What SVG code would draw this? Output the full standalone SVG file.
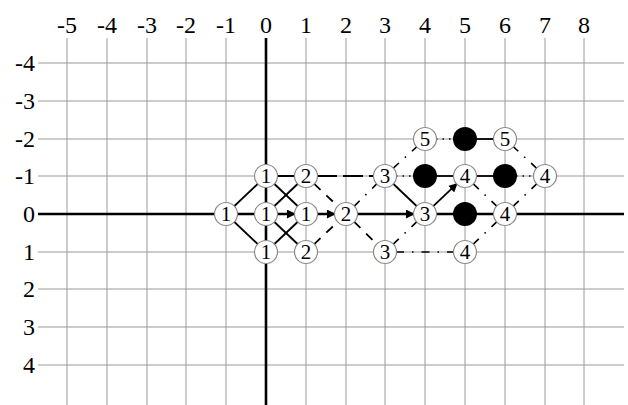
<svg xmlns="http://www.w3.org/2000/svg" width="628" height="405" viewBox="0 0 628 405">
<style>
.g{stroke:#9a9a9a;stroke-width:1;fill:none}
.ax{stroke:#000;stroke-width:2.6}
.lbl{font-family:"Liberation Serif","Times New Roman",serif;font-size:24px;fill:#000}
.s{stroke:#000;stroke-width:1.8;fill:none}
.d1{stroke:#000;stroke-width:1.8;stroke-dasharray:20 6}
.d2{stroke:#000;stroke-width:1.8;stroke-dasharray:9 8}
.dd{stroke:#000;stroke-width:1.6;stroke-dasharray:8 8 1.5 8}
.dt{stroke:#000;stroke-width:1.5;stroke-dasharray:1.5 5}
.a{stroke:#000;stroke-width:1.8;marker-end:url(#ah)}
.n circle{fill:#fff;stroke:#8a8a8a;stroke-width:1.2}
.n text{font-family:"Liberation Serif","Times New Roman",serif;font-size:21px;text-anchor:middle;fill:#000}
.b circle{fill:#000}
</style>
<defs>
<marker id="ah" viewBox="0 0 10 10" refX="9" refY="5" markerWidth="5" markerHeight="5" orient="auto" markerUnits="strokeWidth">
<path d="M0,0 L10,5 L0,10 z" fill="#000"/>
</marker>
</defs>
<rect width="628" height="405" fill="#fff"/>
<g id="grid">
<g class="g">
<line x1="67" y1="38" x2="67" y2="405"/>
<line x1="107" y1="38" x2="107" y2="405"/>
<line x1="147" y1="38" x2="147" y2="405"/>
<line x1="186" y1="38" x2="186" y2="405"/>
<line x1="226" y1="38" x2="226" y2="405"/>
<line x1="306" y1="38" x2="306" y2="405"/>
<line x1="346" y1="38" x2="346" y2="405"/>
<line x1="385" y1="38" x2="385" y2="405"/>
<line x1="425" y1="38" x2="425" y2="405"/>
<line x1="465" y1="38" x2="465" y2="405"/>
<line x1="505" y1="38" x2="505" y2="405"/>
<line x1="545" y1="38" x2="545" y2="405"/>
<line x1="584" y1="38" x2="584" y2="405"/>
<line x1="38" y1="63" x2="624" y2="63"/>
<line x1="38" y1="101" x2="624" y2="101"/>
<line x1="38" y1="139" x2="624" y2="139"/>
<line x1="38" y1="176" x2="624" y2="176"/>
<line x1="38" y1="252" x2="624" y2="252"/>
<line x1="38" y1="289" x2="624" y2="289"/>
<line x1="38" y1="327" x2="624" y2="327"/>
<line x1="38" y1="365" x2="624" y2="365"/>
</g>
<line class="ax" x1="266" y1="38" x2="266" y2="405"/>
<line class="ax" x1="38" y1="214" x2="624" y2="214"/>
<g class="lbl" text-anchor="middle">
<text x="67" y="33">-5</text>
<text x="107" y="33">-4</text>
<text x="147" y="33">-3</text>
<text x="186" y="33">-2</text>
<text x="226" y="33">-1</text>
<text x="266" y="33">0</text>
<text x="306" y="33">1</text>
<text x="346" y="33">2</text>
<text x="385" y="33">3</text>
<text x="425" y="33">4</text>
<text x="465" y="33">5</text>
<text x="505" y="33">6</text>
<text x="545" y="33">7</text>
<text x="584" y="33">8</text>
</g>
<g class="lbl" text-anchor="end">
<text x="35" y="71">-4</text>
<text x="35" y="109">-3</text>
<text x="35" y="147">-2</text>
<text x="35" y="184">-1</text>
<text x="35" y="222">0</text>
<text x="35" y="260">1</text>
<text x="35" y="297">2</text>
<text x="35" y="335">3</text>
<text x="35" y="373">4</text>
</g>
</g>
<g id="connectors">
<line class="s" x1="226" y1="214" x2="266" y2="176"/>
<line class="s" x1="226" y1="214" x2="266" y2="252"/>
<line class="s" x1="266" y1="176" x2="306" y2="214"/>
<line class="s" x1="266" y1="252" x2="306" y2="214"/>
<line class="s" x1="306" y1="176" x2="266" y2="214"/>
<line class="s" x1="306" y1="252" x2="266" y2="214"/>
<line class="s" x1="266" y1="176" x2="306" y2="176"/>
<line class="s" x1="385" y1="176" x2="425" y2="214"/>
<line class="s" x1="436" y1="176" x2="454" y2="176"/>
<line class="s" x1="476" y1="176" x2="494" y2="176"/>
<line class="s" x1="476" y1="139" x2="494" y2="139"/>
<line class="a" x1="277" y1="214" x2="295" y2="214"/>
<line class="a" x1="317" y1="214" x2="335" y2="214"/>
<line class="a" x1="357" y1="214" x2="414" y2="214"/>
<line class="a" x1="433" y1="206.4" x2="457" y2="183.6"/>
<line class="d1" x1="317" y1="176" x2="374" y2="176"/>
<line class="d2" x1="314" y1="183.6" x2="338" y2="206.4"/>
<line class="d2" x1="314" y1="244.4" x2="338" y2="221.6"/>
<line class="d2" x1="354" y1="221.6" x2="377" y2="244.4"/>
<line class="dd" x1="354" y1="206.4" x2="377" y2="183.6"/>
<line class="dd" x1="393" y1="168.4" x2="417" y2="146.6"/>
<line class="dd" x1="393" y1="244.4" x2="417" y2="221.6"/>
<line class="dd" x1="396" y1="252" x2="454" y2="252"/>
<line class="dd" x1="473" y1="183.6" x2="497" y2="206.4"/>
<line class="dd" x1="473" y1="244.4" x2="497" y2="221.6"/>
<line class="dd" x1="513" y1="206.4" x2="537" y2="183.6"/>
<line class="dd" x1="537" y1="168.6" x2="513" y2="146.4"/>
<line class="dt" x1="396" y1="176" x2="414" y2="176"/>
<line class="dt" x1="436" y1="139" x2="454" y2="139"/>
<line class="dt" x1="516" y1="176" x2="534" y2="176"/>
</g>
<g id="n_m1_0" class="n"><circle cx="226" cy="214" r="11.5"/><text x="226" y="221">1</text></g>
<g id="n_0_m1" class="n"><circle cx="266" cy="176" r="11.5"/><text x="266" y="183">1</text></g>
<g id="n_0_0" class="n"><circle cx="266" cy="214" r="11.5"/><text x="266" y="221">1</text></g>
<g id="n_0_1" class="n"><circle cx="266" cy="252" r="11.5"/><text x="266" y="259">1</text></g>
<g id="n_1_m1" class="n"><circle cx="306" cy="176" r="11.5"/><text x="306" y="183">2</text></g>
<g id="n_1_0" class="n"><circle cx="306" cy="214" r="11.5"/><text x="306" y="221">1</text></g>
<g id="n_1_1" class="n"><circle cx="306" cy="252" r="11.5"/><text x="306" y="259">2</text></g>
<g id="n_2_0" class="n"><circle cx="346" cy="214" r="11.5"/><text x="346" y="221">2</text></g>
<g id="n_3_m1" class="n"><circle cx="385" cy="176" r="11.5"/><text x="385" y="183">3</text></g>
<g id="n_3_1" class="n"><circle cx="385" cy="252" r="11.5"/><text x="385" y="259">3</text></g>
<g id="n_4_0" class="n"><circle cx="425" cy="214" r="11.5"/><text x="425" y="221">3</text></g>
<g id="n_4_m2" class="n"><circle cx="425" cy="139" r="11.5"/><text x="425" y="146">5</text></g>
<g id="n_5_m1" class="n"><circle cx="465" cy="176" r="11.5"/><text x="465" y="183">4</text></g>
<g id="n_5_1" class="n"><circle cx="465" cy="252" r="11.5"/><text x="465" y="259">4</text></g>
<g id="n_6_0" class="n"><circle cx="505" cy="214" r="11.5"/><text x="505" y="221">4</text></g>
<g id="n_6_m2" class="n"><circle cx="505" cy="139" r="11.5"/><text x="505" y="146">5</text></g>
<g id="n_7_m1" class="n"><circle cx="545" cy="176" r="11.5"/><text x="545" y="183">4</text></g>
<g id="b_5_m2" class="b"><circle cx="465" cy="139" r="12"/></g>
<g id="b_4_m1" class="b"><circle cx="425" cy="176" r="12"/></g>
<g id="b_6_m1" class="b"><circle cx="505" cy="176" r="12"/></g>
<g id="b_5_0" class="b"><circle cx="465" cy="214" r="12"/></g>
</svg>
